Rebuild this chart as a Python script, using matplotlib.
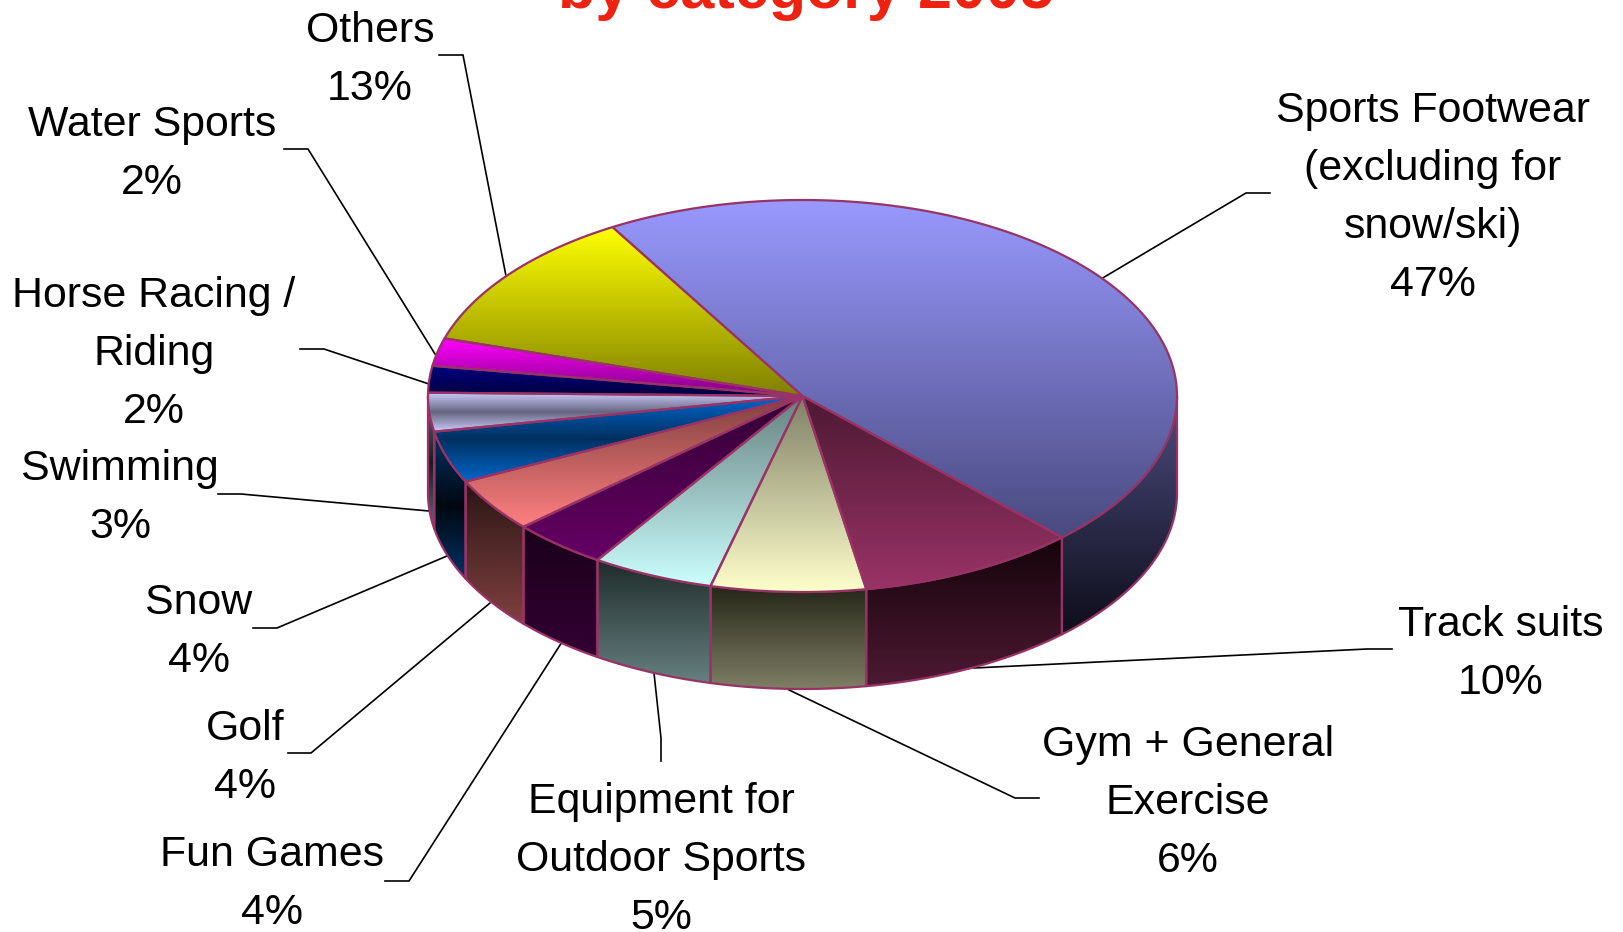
import numpy as np
import matplotlib
matplotlib.use("Agg")
import matplotlib.pyplot as plt
from matplotlib.colors import to_rgb
from matplotlib.patches import Polygon

categories = ["Sports Footwear\n(excluding for\nsnow/ski)", "Track suits", "Gym + General\nExercise",
              "Equipment for\nOutdoor Sports", "Fun Games", "Golf", "Snow", "Swimming",
              "Horse Racing /\nRiding", "Water Sports", "Others"]
shares = [46.5, 9.5, 6.7, 5.3, 4.17, 4.45, 4.3, 3.2, 2.2, 2.3, 11.83]
percents = [47, 10, 6, 5, 4, 4, 4, 3, 2, 2, 13]
title_line = "by category 2005"

# top face and wall gradients, top to bottom
top_cols = [["#9999ff", "#4a4a80"], ["#4d1933", "#993366"], ["#7f7f66", "#ffffcc"],
            ["#668080", "#ccffff"], ["#330033", "#660066"], ["#804040", "#ff8080"],
            ["#0066cc", "#003060", "#0066cc"], ["#ccccff", "#666680", "#ccccff"],
            ["#000080", "#000040"], ["#ff00ff", "#800080"], ["#ffff00", "#808000"]]
wall_cols = [["#4d4d80", "#0d0d1a"], ["#15040a", "#4d1933"], ["#262619", "#7f7f66"],
             ["#1f2a2a", "#668080"], ["#1a001a", "#330033"], ["#2a1514", "#804040"],
             ["#003366", "#000810", "#003366"], ["#666680", "#1a1a20", "#666680"],
             ["#000080", "#000040"], ["#ff00ff", "#800080"], ["#808000", "#404000"]]

# label centre and leader line, in pixels of the picture
label_xy = [(1433, 198), (1501, 654), (1188, 803), (661, 860), (272, 884), (245, 758),
            (199, 632), (120, 498), (154, 354), (152, 154), (370, 60)]
leaders = [[(1270, 193), (1246, 193), (1101, 279)], [(1392, 649), (1367, 649), (974, 668)],
           [(1039, 798), (1015, 798), (787, 689)], [(661, 761), (661, 738), (654, 673)],
           [(385, 881), (409, 881), (562, 642)], [(288, 753), (311, 753), (490, 603)],
           [(253, 628), (277, 628), (447, 556)], [(218, 494), (241, 494), (429, 511)],
           [(300, 349), (324, 349), (429, 384)], [(284, 149), (308, 149), (435, 354)],
           [(439, 55), (463, 55), (506, 276)]]

cx, cy, rx, ry, depth = 802.5, 396, 374.5, 196, 97
rim = "#993366"
start = 120.5

fig = plt.figure(figsize=(16.24, 9.32), dpi=100)
ax = fig.add_axes([0, 0, 1, 1])


def arc(a0, a1):
    t = np.radians(np.linspace(a0, a1, max(2, int(abs(a1 - a0) * 2))))
    return np.column_stack([cx + rx * np.cos(t), cy - ry * np.sin(t)])


def shaded(pts, cols, z):
    # vertical gradient clipped to the polygon, then the outline over it
    y0, y1 = pts[:, 1].min(), pts[:, 1].max()
    stops = np.array([to_rgb(c) for c in cols])
    pos = np.linspace(0, 1, 200)
    grad = np.column_stack([np.interp(pos, np.linspace(0, 1, len(cols)), stops[:, i]) for i in range(3)])
    im = ax.imshow(grad[:, None, :], extent=(pts[:, 0].min(), pts[:, 0].max(), y1, y0),
                   origin="upper", aspect="auto", zorder=z, interpolation="bilinear")
    patch = Polygon(pts, closed=True, facecolor="none", edgecolor=rim, linewidth=1.6, zorder=z + 0.1,
                    joinstyle="round")
    ax.add_patch(patch)
    im.set_clip_path(patch)


total = sum(shares)
edges = start - np.cumsum([0] + shares) * 360.0 / total

# walls first, only the part of each slice on the front half shows
for i in range(len(shares)):
    a0, a1 = min(edges[i], 0), max(edges[i + 1], -180)
    if a0 > a1:
        top = arc(a0, a1)
        shaded(np.vstack([top, (top + [0, depth])[::-1]]), wall_cols[i], 2 + i * 0.01)

for i in range(len(shares)):
    shaded(np.vstack([[(cx, cy)], arc(edges[i], edges[i + 1])]), top_cols[i], 3 + i * 0.01)

for i, name in enumerate(categories):
    ax.plot(*zip(*leaders[i]), color="black", linewidth=1.2, zorder=1, solid_joinstyle="miter")
    ax.text(label_xy[i][0], label_xy[i][1], name + "\n" + str(percents[i]) + "%", ha="center", va="center",
            family="Liberation Sans", fontsize=30.9, color="black", linespacing=1.57, zorder=5)

ax.text(806, 8, title_line, ha="center", va="baseline", family="Liberation Sans", fontsize=44,
        fontweight="bold", color="#ee2211", zorder=5)

ax.set_xlim(0, 1624)
ax.set_ylim(932, 0)
ax.axis("off")
fig.savefig("out.png", dpi=100)
